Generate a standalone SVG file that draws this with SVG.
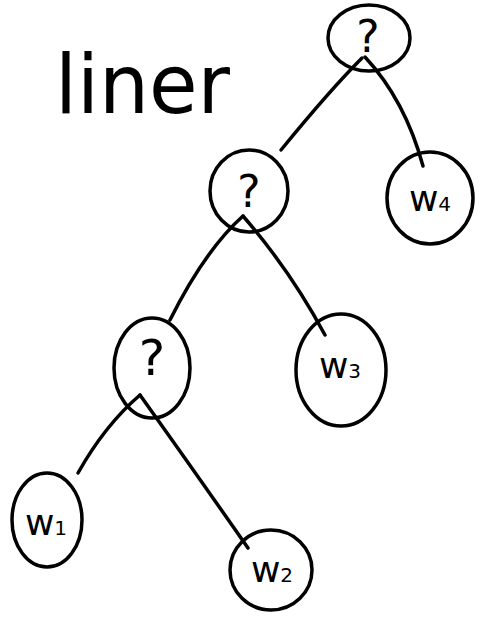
<svg xmlns="http://www.w3.org/2000/svg" width="483" height="619" viewBox="0 0 483 619">
<style>
.n{fill:none;stroke:#000;stroke-width:3.5;stroke-linecap:round;stroke-linejoin:round}
.c{fill:none;stroke:#000;stroke-width:3.5;stroke-linecap:round;stroke-linejoin:round}
.q{font-family:"DejaVu Sans",sans-serif;fill:#000;text-anchor:middle}
.w{font-family:"DejaVu Sans",sans-serif;fill:#000;text-anchor:middle;font-size:36px}
.s{font-size:20px}
.t{font-family:"DejaVu Sans",sans-serif;fill:#000;font-size:82px}
</style>
<rect width="483" height="619" fill="#fff"/>
<g id="title"><text class="t" x="55" y="113" textLength="175" lengthAdjust="spacingAndGlyphs">liner</text></g>
<g id="connectors">
<path class="c" d="M362 58 Q330 90 281 150"/>
<path class="c" d="M365 57 Q405 100 423 166"/>
<path class="c" d="M243 216 Q205 250 170 320"/>
<path class="c" d="M243 216 Q290 270 325 335"/>
<path class="c" d="M140 395 Q105 425 78 473"/>
<path class="c" d="M140 395 Q190 465 248 548"/>
</g>
<g id="root"><ellipse class="n" cx="369" cy="38" rx="41" ry="33"/><text class="q" x="368" y="52" font-size="44">?</text></g>
<g id="n2"><ellipse class="n" cx="249" cy="191" rx="39" ry="41"/><text class="q" x="249" y="207" font-size="44">?</text></g>
<g id="w4"><ellipse class="n" cx="430" cy="198" rx="43" ry="46"/><text class="w" x="430" y="211">w<tspan class="s">4</tspan></text></g>
<g id="n3"><ellipse class="n" cx="152" cy="368" rx="38" ry="50"/><text class="q" x="152" y="375" font-size="50">?</text></g>
<g id="w3"><ellipse class="n" cx="341" cy="370" rx="45" ry="56"/><text class="w" x="340" y="378">w<tspan class="s">3</tspan></text></g>
<g id="w1"><ellipse class="n" cx="47" cy="520" rx="35" ry="47"/><text class="w" x="46" y="535">w<tspan class="s">1</tspan></text></g>
<g id="w2"><ellipse class="n" cx="271" cy="570" rx="41" ry="40"/><text class="w" x="272" y="582">w<tspan class="s">2</tspan></text></g>
</svg>
